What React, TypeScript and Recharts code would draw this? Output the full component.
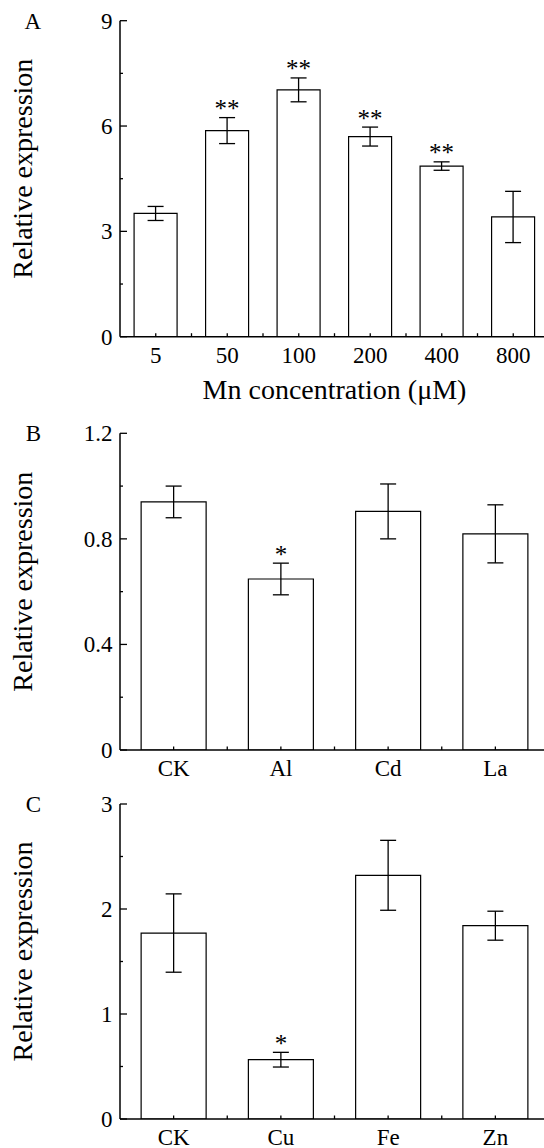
import React from 'react';
import { BarChart, Bar, XAxis, YAxis, ErrorBar, LabelList, Label } from 'recharts';

// ---- Panel A: Mn concentration ----
const mnLabels = ['5', '50', '100', '200', '400', '800'];
const mnValues = [3.51, 5.87, 7.03, 5.70, 4.86, 3.41];
const mnErrors = [0.20, 0.37, 0.34, 0.27, 0.12, 0.73];
const mnSig = ['', '**', '**', '**', '**', ''];
const aTicks = [0, 1.5, 3, 4.5, 6, 7.5, 9];
const aMajor = [0, 3, 6, 9];

// ---- Panel B: other metals ----
const bLabels = ['CK', 'Al', 'Cd', 'La'];
const bValues = [0.94, 0.648, 0.904, 0.819];
const bErrors = [0.06, 0.06, 0.104, 0.11];
const bSig = ['', '*', '', ''];
const bTicks = [0, 0.2, 0.4, 0.6, 0.8, 1.0, 1.2];
const bMajor = [0, 0.4, 0.8, 1.2];

// ---- Panel C: micronutrients ----
const cLabels = ['CK', 'Cu', 'Fe', 'Zn'];
const cValues = [1.771, 0.565, 2.321, 1.841];
const cErrors = [0.373, 0.07, 0.333, 0.138];
const cSig = ['', '*', '', ''];
const cTicks = [0, 0.5, 1, 1.5, 2, 2.5, 3];
const cMajor = [0, 1, 2, 3];

const FONT = "'Liberation Serif', 'Times New Roman', serif";
const CHART_W = 552;
const Y_W = 120;
const M_RIGHT = 3;

type PanelProps = {
  letter: string;
  labels: string[];
  values: number[];
  errors: number[];
  sig: string[];
  yTicks: number[];
  yMajor: number[];
  top: number;
  height: number;
  marginTop: number;
  xHeight: number;
  xTitle?: string;
};

const Panel = (p: PanelProps) => {
  const data = p.labels.map((name, i) => ({ name, value: p.values[i], err: p.errors[i], sig: p.sig[i] }));
  const n = p.labels.length;
  const yMax = p.yTicks[p.yTicks.length - 1];

  const halfBand = (props: any) => {
    const off = props?.payload?.offset;
    if (typeof off === 'number' && off > 0) return off;
    return (CHART_W - Y_W - M_RIGHT) / (2 * n);
  };

  const YTick = (props: any) => {
    const { x, y, payload } = props;
    const v = payload.value;
    const isMajor = p.yMajor.some((m) => Math.abs(m - v) < 1e-6);
    return (
      <g>
        <line x1={x} x2={x + (isMajor ? 7 : 3)} y1={y} y2={y} stroke="#000" strokeWidth={1.3} />
        {isMajor && (
          <text x={x - 7.5} y={y} dy="0.34em" textAnchor="end" fontSize={23} fontFamily={FONT} fill="#000">
            {String(v)}
          </text>
        )}
      </g>
    );
  };

  const makeXTick = (isTop: boolean) => (props: any) => {
    const { x, y, payload } = props;
    const hb = halfBand(props);
    const len = 3.5;
    const y2 = isTop ? y + len : y - len;
    return (
      <g>
        <line x1={x} x2={x} y1={y} y2={y2} stroke="#000" strokeWidth={1.3} />
        <line x1={x + hb} x2={x + hb} y1={y} y2={y2} stroke="#000" strokeWidth={1.3} />
        {!isTop && (
          <text x={x} y={y + 26} textAnchor="middle" fontSize={23} fontFamily={FONT} fill="#000">
            {payload.value}
          </text>
        )}
      </g>
    );
  };

  const yLabel = (props: any) => {
    const vb = props.viewBox || {};
    const cx = 32;
    const cy = vb.y + vb.height / 2 - 10;
    return (
      <g>
        <text
          x={cx}
          y={cy}
          transform={`rotate(-90, ${cx}, ${cy})`}
          textAnchor="middle"
          fontSize={28}
          fontFamily={FONT}
          fill="#000"
        >
          Relative expression
        </text>
        <text x={41} y={vb.y + 8} textAnchor="end" fontSize={23} fontFamily={FONT} fill="#000">
          {p.letter}
        </text>
      </g>
    );
  };

  const xTitle = (props: any) => {
    const vb = props.viewBox || {};
    if (!p.xTitle) return null;
    return (
      <text x={vb.x + vb.width / 2} y={vb.y + 62} textAnchor="middle" fontSize={28} fontFamily={FONT} fill="#000">
        {p.xTitle}
      </text>
    );
  };

  const sigLabel = (props: any) => {
    const { x, y, width, height, index } = props;
    const row = data[index];
    if (!row || !row.sig) return null;
    const pxPerUnit = height / row.value;
    const errTop = y - row.err * pxPerUnit;
    return (
      <text x={x + width / 2} y={errTop - 0.5} textAnchor="middle" fontSize={25} fontFamily={FONT} fill="#000">
        {row.sig}
      </text>
    );
  };

  return (
    <div style={{ position: 'absolute', left: 0, top: p.top }}>
      <BarChart
        width={CHART_W}
        height={p.height}
        data={data}
        margin={{ top: p.marginTop, right: M_RIGHT, left: 0, bottom: 0 }}
        barCategoryGap="19.7%"
      >
        <XAxis
          xAxisId={0}
          dataKey="name"
          orientation="bottom"
          interval={0}
          height={p.xHeight}
          tickSize={0}
          tickMargin={0}
          tickLine={false}
          axisLine={{ stroke: '#000', strokeWidth: 1.5 }}
          tick={makeXTick(false)}
        >
          <Label content={xTitle} />
        </XAxis>
        <XAxis
          xAxisId="t"
          dataKey="name"
          orientation="top"
          interval={0}
          height={0}
          tickSize={0}
          tickMargin={0}
          tickLine={false}
          axisLine={{ stroke: '#000', strokeWidth: 1.5 }}
          tick={makeXTick(true)}
        />
        <YAxis
          yAxisId={0}
          width={Y_W}
          domain={[0, yMax]}
          ticks={p.yTicks}
          interval={0}
          allowDataOverflow
          tickSize={0}
          tickMargin={0}
          tickLine={false}
          axisLine={{ stroke: '#000', strokeWidth: 1.5 }}
          tick={YTick}
        >
          <Label content={yLabel} />
        </YAxis>
        <Bar
          dataKey="value"
          xAxisId={0}
          yAxisId={0}
          fill="#fff"
          stroke="#000"
          strokeWidth={1.2}
          isAnimationActive={false}
        >
          <ErrorBar dataKey="err" width={8} stroke="#000" strokeWidth={1.3} direction="y" isAnimationActive={false} />
          <LabelList dataKey="sig" content={sigLabel} />
        </Bar>
      </BarChart>
    </div>
  );
};

export default function App() {
  return (
    <div
      style={{
        position: 'absolute',
        left: 0,
        top: 0,
        width: 544,
        height: 1148,
        overflow: 'hidden',
        background: '#fff',
      }}
    >
      <Panel
        letter="A"
        labels={mnLabels}
        values={mnValues}
        errors={mnErrors}
        sig={mnSig}
        yTicks={aTicks}
        yMajor={aMajor}
        top={0}
        height={410}
        marginTop={20.7}
        xHeight={73.3}
        xTitle="Mn concentration (μM)"
      />
      <Panel
        letter="B"
        labels={bLabels}
        values={bValues}
        errors={bErrors}
        sig={bSig}
        yTicks={bTicks}
        yMajor={bMajor}
        top={410}
        height={380}
        marginTop={23.3}
        xHeight={40}
      />
      <Panel
        letter="C"
        labels={cLabels}
        values={cValues}
        errors={cErrors}
        sig={cSig}
        yTicks={cTicks}
        yMajor={cMajor}
        top={790}
        height={358}
        marginTop={14}
        xHeight={29}
      />
    </div>
  );
}
